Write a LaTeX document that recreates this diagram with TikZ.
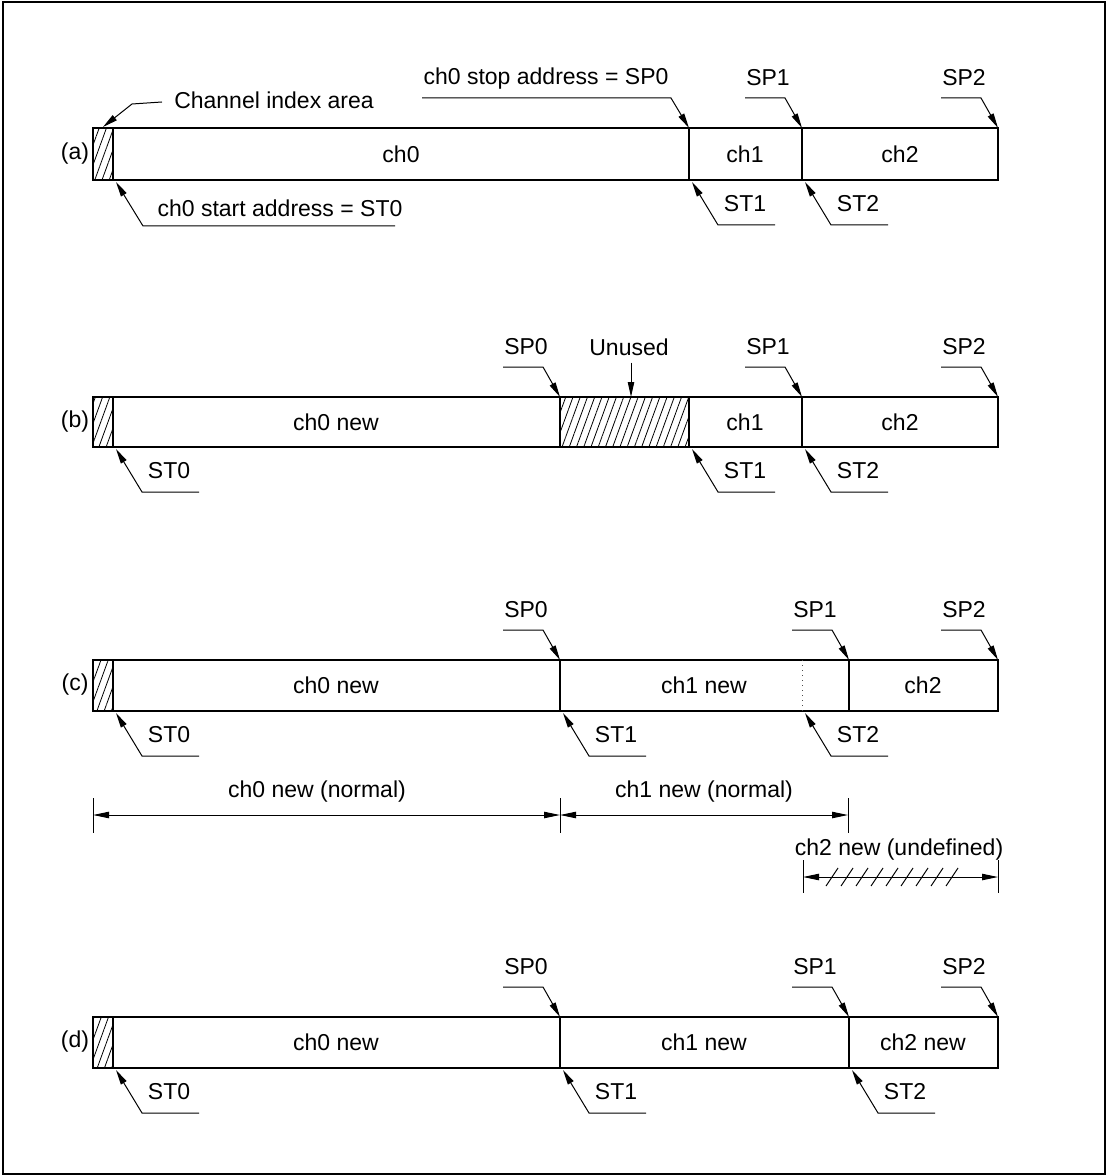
\documentclass[tikz,border=0pt]{standalone}
\usepackage{fontspec}
\setmainfont{Liberation Sans}
\usetikzlibrary{arrows.meta, patterns.meta}

\begin{document}
\begin{tikzpicture}[x=0.5pt, y=-0.5pt, font=\fontsize{11.5}{13.5}\selectfont,
    bar/.style={draw, line width=0.8pt},
    hatch/.style={bar, pattern={Lines[angle=70, distance=3.4pt, line width=0.4pt]}},
    lead/.style={line width=0.5pt, -{Triangle[length=7.5pt, width=3.2pt]}},
    dim/.style={line width=0.5pt, {Triangle[length=8pt, width=3.2pt]}-{Triangle[length=8pt, width=3.2pt]}},
    tick/.style={line width=0.5pt}]

    \useasboundingbox (0,0) rectangle (1106,1176);
    \draw[line width=1pt] (2.5,2) rectangle (1104.5,1174);

    % (a) original layout
    \node (a) at (75,154) {(a)};
    \draw[hatch] (93,128) rectangle (113,180);
    \draw[bar] (113,128) rectangle (689,180);
    \draw[bar] (689,128) rectangle (802,180);
    \draw[bar] (802,128) rectangle (998,180);
    \draw[line width=1.1pt] (689,128) -- (689,180);
    \node (a-ch0) at (401,154) {ch0};
    \node (a-ch1) at (745,154) {ch1};
    \node (a-ch2) at (900,154) {ch2};

    \node (a-ci-t) at (274,100) {Channel index area};
    \coordinate (a-ci-e) at (162,102);
    \coordinate (a-ci-k) at (132,104);
    \coordinate (a-ci) at (103,127);
    \draw[lead] (a-ci-e) -- (a-ci-k) -- (a-ci);

    \node (a-sp0-t) at (546,79) {ch0 stop address = SP0};
    \coordinate (a-sp0-e) at (422,98);
    \coordinate (a-sp0-k) at (671,98);
    \coordinate (a-sp0) at (689,128);
    \draw[lead] (a-sp0-e) -- (a-sp0-k) -- (a-sp0);

    \node (a-st0-t) at (280,208) {ch0 start address = ST0};
    \coordinate (a-st0-e) at (395,226);
    \coordinate (a-st0-k) at (143,226);
    \coordinate (a-st0) at (116,182);
    \draw[lead] (a-st0-e) -- (a-st0-k) -- (a-st0);

    % (b) ch0 shrunk
    \node (b) at (75,422) {(b)};
    \draw[hatch] (93,397) rectangle (113,447);
    \draw[bar] (113,397) rectangle (560,447);
    \draw[hatch] (560,397) rectangle (689,447);
    \draw[bar] (689,397) rectangle (802,447);
    \draw[bar] (802,397) rectangle (998,447);
    \node (b-ch0) at (336,422) {ch0 new};
    \node (b-ch1) at (745,422) {ch1};
    \node (b-ch2) at (900,422) {ch2};

    \node (b-un-t) at (629,347) {Unused};
    \coordinate (b-un) at (631,397);
    \draw[lead] (b-un-t.south -| b-un) -- (b-un);

    % (c) ch1 grown
    \node (c) at (75,685) {(c)};
    \draw[hatch] (93,660) rectangle (113,711);
    \draw[bar] (113,660) rectangle (560,711);
    \draw[bar] (560,660) rectangle (849,711);
    \draw[bar] (849,660) rectangle (998,711);
    \draw[dotted, line width=0.5pt, black!70] (802,660) -- (802,711);
    \node (c-ch0) at (336,685) {ch0 new};
    \node (c-ch1) at (704,685) {ch1 new};
    \node (c-ch2) at (923,685) {ch2};

    \foreach \x in {93,560,848} \draw[tick] (\x,798) -- (\x,833);
    \coordinate (c-k0) at (93,815);
    \coordinate (c-k1) at (560,815);
    \coordinate (c-k2) at (848,815);
    \draw[dim] (c-k1) -- (c-k0);
    \draw[dim] (c-k1) -- (c-k2);
    \node (c-n0) at (317,792) {ch0 new (normal)};
    \node (c-n1) at (704,792) {ch1 new (normal)};

    \foreach \x in {803,998} \draw[tick] (\x,860) -- (\x,893);
    \coordinate (c-u0) at (803,877);
    \coordinate (c-u1) at (998,877);
    \draw[dim] (c-u0) -- (c-u1);
    \foreach \i in {0,...,8} \draw[tick] (826+15*\i,886) -- ++(12,-18);
    \node (c-n2) at (899,850) {ch2 new (undefined)};

    % (d) final layout
    \node (d) at (75,1042) {(d)};
    \draw[hatch] (93,1017) rectangle (113,1068);
    \draw[bar] (113,1017) rectangle (560,1068);
    \draw[bar] (560,1017) rectangle (849,1068);
    \draw[bar] (849,1017) rectangle (998,1068);
    \node (d-ch0) at (336,1042) {ch0 new};
    \node (d-ch1) at (704,1042) {ch1 new};
    \node (d-ch2) at (923,1042) {ch2 new};

    % stop address callouts
    \foreach \n/\x/\y/\t in {a-sp1/802/128/SP1, a-sp2/998/128/SP2,
        b-sp0/560/397/SP0, b-sp1/802/397/SP1, b-sp2/998/397/SP2,
        c-sp0/560/660/SP0, c-sp1/849/660/SP1, c-sp2/998/660/SP2,
        d-sp0/560/1017/SP0, d-sp1/849/1017/SP1, d-sp2/998/1017/SP2}{
      \node (\n-t) at (\x-34,\y-50) {\t};
      \coordinate (\n-e) at (\x-57,\y-30);
      \coordinate (\n-k) at (\x-17,\y-30);
      \coordinate (\n) at (\x,\y);
      \draw[lead] (\n-e) -- (\n-k) -- (\n);
    }

    % start address callouts
    \foreach \n/\x/\y/\t in {a-st1/689/180/ST1, a-st2/802/180/ST2,
        b-st0/113/447/ST0, b-st1/689/447/ST1, b-st2/802/447/ST2,
        c-st0/113/711/ST0, c-st1/560/711/ST1, c-st2/802/711/ST2,
        d-st0/113/1068/ST0, d-st1/560/1068/ST1, d-st2/849/1068/ST2}{
      \node (\n-t) at (\x+56,\y+24) {\t};
      \coordinate (\n-e) at (\x+86,\y+45);
      \coordinate (\n-k) at (\x+29,\y+45);
      \coordinate (\n) at (\x+3,\y+2);
      \draw[lead] (\n-e) -- (\n-k) -- (\n);
    }
\end{tikzpicture}
\end{document}
